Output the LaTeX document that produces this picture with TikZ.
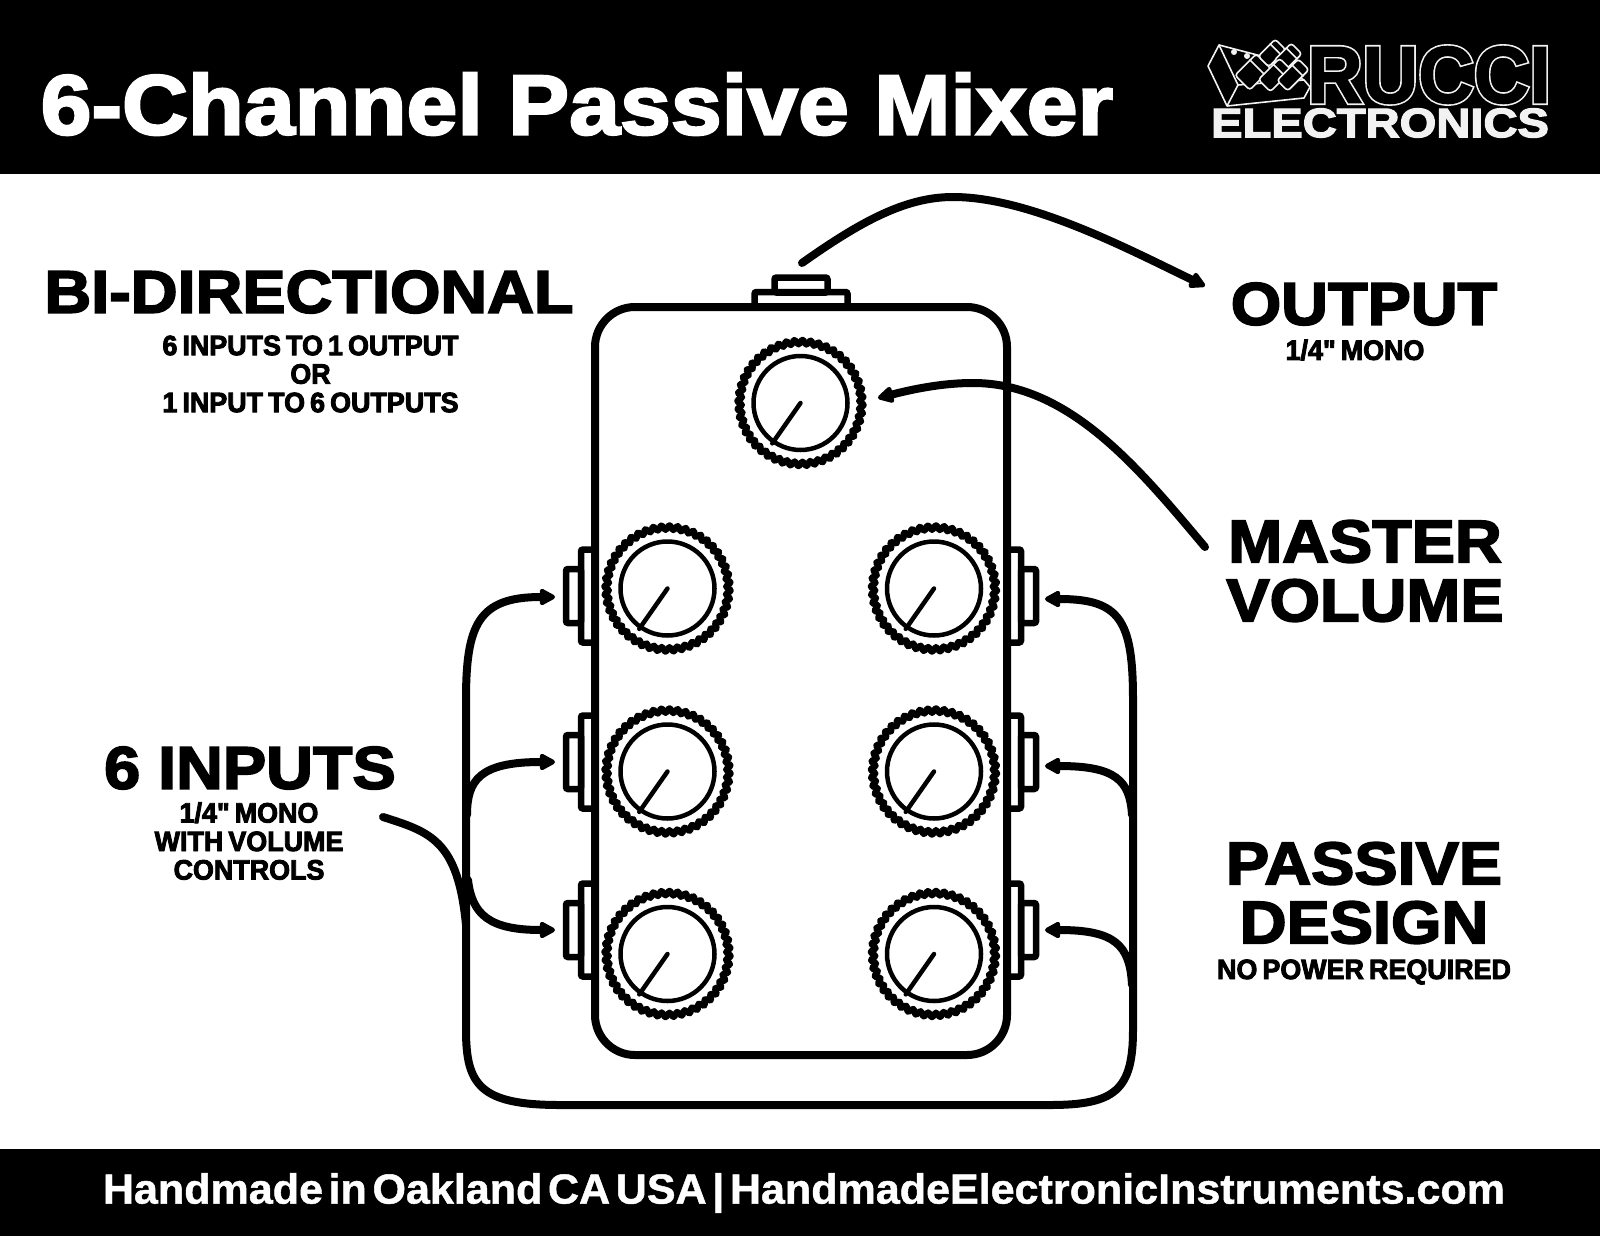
\documentclass[tikz,border=0pt]{standalone}
\usepackage{fontspec}
\usetikzlibrary{arrows.meta,positioning,calc}
\newfontfamily\heavy[BoldFeatures={FakeBold=3,FakeStretch=1.08}]{Liberation Sans}
\newfontfamily\titlefont[BoldFeatures={FakeBold=2.8,FakeStretch=1.076}]{Liberation Sans}
\newfontfamily\subfont[BoldFeatures={FakeBold=3.2,FakeStretch=0.96},WordSpace=0.68]{Liberation Sans}
\newfontfamily\plainbold[BoldFeatures={FakeBold=1.1,FakeStretch=1.025},WordSpace=0.47]{Liberation Sans}
\newfontfamily\rimfont[BoldFeatures={FakeBold=5.5,FakeStretch=0.95}]{Liberation Sans}
\newfontfamily\corefont[BoldFeatures={FakeBold=1.5,FakeStretch=0.95}]{Liberation Sans}
\newfontfamily\logofont[BoldFeatures={FakeBold=3.2,FakeStretch=1.15}]{Liberation Sans}
\definecolor{logowhite}{HTML}{F2F2F2}

\begin{document}
\begin{tikzpicture}[
    x=1pt, y=-1pt,
    heading/.style={font=\heavy\bfseries\fontsize{60}{59}\selectfont, align=center, inner sep=0pt},
    subhead/.style={font=\subfont\bfseries\fontsize{28}{28.5}\selectfont, align=center, inner sep=0pt},
    wall/.style={line width=8pt, rounded corners=40pt},
    jackplate/.style={rectangle, draw, line width=6.5pt, rounded corners=2pt, inner sep=0pt},
    knobring/.style={circle, draw, line width=4.5pt, minimum size=94pt, inner sep=0pt},
    knurl/.style={line width=6pt, line join=round},
    pointer/.style={line width=4.5pt, line cap=round},
    wire/.style={line width=8pt, line cap=round},
    arr/.style={wire, -{Triangle[length=18pt, width=18pt, round]}},
    logoline/.style={draw=logowhite, line width=1.6pt, line join=round},
    logoknob/.style={logoline, fill=black, rectangle, rounded corners=3pt, rotate=45, inner sep=0pt}
  ]
  \useasboundingbox (0,0) rectangle (1600,1236);

  % ---- Bands ----
  \fill[black] (0,0) rectangle (1600,174);
  \fill[black] (0,1149) rectangle (1600,1236);
  \node[font=\titlefont\bfseries\fontsize{85}{85}\selectfont, white, inner sep=0pt] (title) at (577,104) {6-Channel Passive Mixer};
  \node[font=\plainbold\bfseries\fontsize{42}{42}\selectfont, white, inner sep=0pt] (footer) at (804,1193)
    {Handmade in Oakland CA USA | HandmadeElectronicInstruments.com};

  % ---- Logo ----
  \node[font=\rimfont\bfseries\fontsize{81}{81}\selectfont, logowhite, inner sep=0pt] (rucciback) at (1429,75) {RUCCI};
  \node[font=\corefont\bfseries\fontsize{81}{81}\selectfont, black, inner sep=0pt] (ruccifront) at (1429,75) {RUCCI};
  \node[font=\logofont\bfseries\fontsize{41}{41}\selectfont, logowhite, inner sep=0pt] (electronics) at (1380,123) {ELECTRONICS};
  \draw[logoline] (1219,45) -- (1208,66) -- (1227,106) -- (1304,98) -- (1310,87) -- (1304,80) -- (1238,85) -- cycle;
  \draw[logoline] (1227,106) -- (1238,85);
  \draw[logoline] (1219,45) -- (1265,57) -- (1304,80);
  \foreach \lname/\lx/\ly/\lw/\lh in {a/1253/72/30/21, b/1272/53/24/15, c/1288/57/24/15, d/1275/75/30/17, e/1293/75/30/15} {
    \node[logoknob, minimum width=\lw pt, minimum height=\lh pt] (logo\lname) at (\lx,\ly) {};
    \draw[logoline] ($(logo\lname.north east)!0.3!(logo\lname.north west)$) -- ($(logo\lname.south east)!0.3!(logo\lname.south west)$);
  }
  \node[circle, fill=logowhite, minimum size=6pt, inner sep=0pt] (logodota) at (1234,52) {};
  \node[circle, fill=logowhite, minimum size=6pt, inner sep=0pt] (logodotb) at (1247,56) {};

  % ---- Enclosure ----
  \draw[wall] (595,307) rectangle (1007,1055);

  % ---- Top jack ----
  \node[jackplate, minimum width=93pt, minimum height=15pt] (topplate) at (801,299.5) {};
  \node[jackplate, minimum width=53pt, minimum height=15pt] (topjack) at (801,285) {};

  % ---- Side jacks ----
  \foreach \jname/\jy in {a/596, b/762, c/930} {
    \node[jackplate, minimum width=14pt, minimum height=93pt] (lplate\jname) at (588,\jy) {};
    \node[jackplate, minimum width=15pt, minimum height=54pt] (ljack\jname) at (573.5,\jy) {};
    \node[jackplate, minimum width=14pt, minimum height=93pt] (rplate\jname) at (1014,\jy) {};
    \node[jackplate, minimum width=15pt, minimum height=54pt] (rjack\jname) at (1028.5,\jy) {};
  }

  % ---- Knobs ----
  \foreach \kname/\kx/\ky in {master/800.5/403, kla/667.5/588.5, klb/667.5/771.5, klc/667.5/954,
                              kra/934/588.5, krb/934/771.5, krc/934/954} {
    \node[knobring] (\kname) at (\kx,\ky) {};
    \draw[knurl, shift={(\kname.center)}] plot[domain=0:360, samples=289] (\x:{61+2.6*sin(6*mod(8*\x,60))}) -- cycle;
    \draw[pointer] (\kname.center) -- (\kname.235);
  }

  % ---- Headings ----
  \node[heading] (bidir) at (309,292) {BI-DIRECTIONAL};
  \node[subhead] (bidirsub) at (310.5,374) {6 INPUTS TO 1 OUTPUT\\OR\\1 INPUT TO 6 OUTPUTS};
  \node[heading] (output) at (1364,304) {OUTPUT};
  \node[subhead] (outputsub) at (1355,350) {1/4" MONO};
  \node[heading] (mastervol) at (1365,571) {MASTER\\VOLUME};
  \node[heading] (inputs) at (250,768) {6 INPUTS};
  \node[subhead] (inputssub) at (249,841) {1/4" MONO\\WITH VOLUME\\CONTROLS};
  \node[heading] (passive) at (1364,893) {PASSIVE\\DESIGN};
  \node[subhead] (passivesub) at (1364,972) {NO POWER REQUIRED};

  % ---- Wire ends ----
  \coordinate (outstart) at (802,263);
  \coordinate (outend) at (1205,286);
  \coordinate (volstart) at (1205,547);
  \coordinate (volend) at (878,398);
  \coordinate (insstart) at (383,817);
  \coordinate (tipla) at (555,597);
  \coordinate (tiplb) at (555,762);
  \coordinate (tiplc) at (555,930);
  \coordinate (tipra) at (1045,599);
  \coordinate (tiprb) at (1045,766);
  \coordinate (tiprc) at (1045,930);

  % ---- Output and master ----
  \draw[arr] (outstart) .. controls (860,222) and (905,197) .. (953,197)
    .. controls (1030,197) and (1130,250) .. (outend);
  \draw[arr] (volstart) .. controls (1140,470) and (1070,383) .. (973,383)
    .. controls (940,383) and (910,390) .. (volend);

  % ---- Input bundle ----
  \draw[arr] (466,1030) -- (466,700) .. controls (466,625) and (478,597) .. (tipla);
  \draw[arr] (467,815) .. controls (467,780) and (480,762) .. (tiplb);
  \draw[arr] (468,880) .. controls (472,915) and (490,930) .. (tiplc);
  \draw[wire] (insstart) .. controls (430,832) and (458,840) .. (466,925);
  \draw[arr] (466,1030) .. controls (466,1085) and (480,1105) .. (560,1105) -- (1050,1105)
    .. controls (1115,1105) and (1133,1090) .. (1133,1030) -- (1133,700)
    .. controls (1133,620) and (1120,599) .. (tipra);
  \draw[arr] (1132,815) .. controls (1130,780) and (1115,766) .. (tiprb);
  \draw[arr] (1132,985) .. controls (1130,945) and (1115,930) .. (tiprc);
\end{tikzpicture}
\end{document}
